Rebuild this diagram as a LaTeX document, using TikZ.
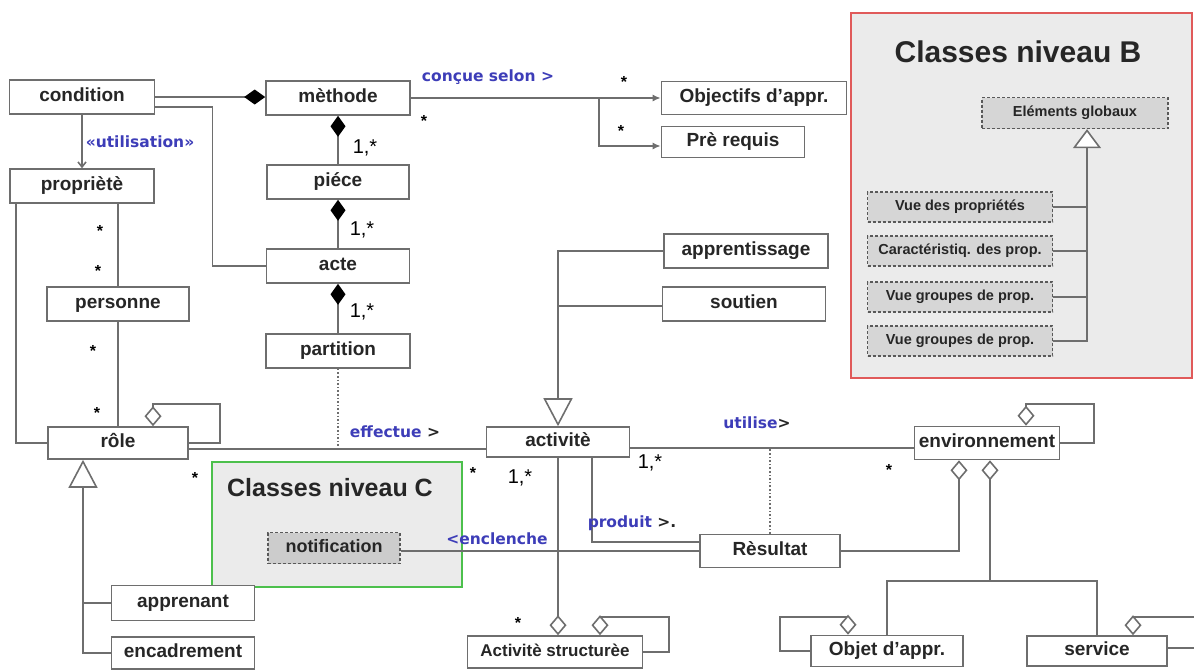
\documentclass[tikz,border=0pt]{standalone}
\usepackage{fontspec}
\setmainfont{Liberation Sans}
\newfontfamily\labelfont{DejaVu Sans}
\usetikzlibrary{arrows.meta}
\definecolor{umlgray}{HTML}{6E6E6E}
\definecolor{umlblue}{HTML}{3D3DB8}
\definecolor{umlred}{HTML}{E05A5A}
\definecolor{umlgreen}{HTML}{4CC04C}
\definecolor{umlfill}{HTML}{EBEBEB}
\definecolor{umlbox}{HTML}{D6D6D6}
\tikzset{
  cls/.style = {draw=umlgray, line width=1.6pt, fill=white, minimum height=34pt, inner sep=0pt, text height=13.5pt, text depth=4.5pt, text=black!85, font=\bfseries\fontsize{19}{22}\selectfont},
  cls_b/.style = {cls, fill=umlbox, draw=black!65, densely dashed, line width=1.3pt, minimum height=30pt, text height=10.5pt, text depth=3.5pt, font=\bfseries\fontsize{14.5}{17}\selectfont},
  frame_b/.style = {draw=umlred, line width=2pt, fill=umlfill, inner sep=0pt},
  frame_c/.style = {draw=umlgreen, line width=2pt, fill=umlfill, inner sep=0pt},
  title/.style = {text=black!85, font=\bfseries\fontsize{30}{34}\selectfont},
  rel/.style = {draw=umlgray, line width=1.6pt},
  rel_dot/.style = {rel, dotted, line width=2pt},
  comp/.style = {rel, -{Diamond[length=21pt,width=15pt,color=black]}},
  aggr/.style = {rel, -{Diamond[open,fill=white,length=20pt,width=17pt]}},
  gen/.style = {rel, -{Triangle[open,fill=white,length=28pt,width=29pt]}},
  nav/.style = {rel, -{Latex[length=8pt,width=7pt]}},
  mult/.style = {inner sep=0pt, font=\bfseries\fontsize{16}{18}\selectfont},
  mult_n/.style = {inner sep=0pt, font=\fontsize{20}{22}\selectfont},
  assoc/.style = {inner sep=0pt, text=umlblue, font=\labelfont\bfseries\fontsize{15.5}{18}\selectfont}
}

\begin{document}
\begin{tikzpicture}[x=1pt,y=-1pt]
	\useasboundingbox (0,0) rectangle (1194,670);
	\clip (0,0) rectangle (1194,670);

	% cadres des niveaux
	\node [frame_b, minimum width=341pt, minimum height=365pt] (niveau_b) at (1021.5,195.5) {};
	\node [title] (titre_b) at (1018,52) {Classes niveau B};
	\node [frame_c, minimum width=250pt, minimum height=125pt] (niveau_c) at (337,524.5) {};
	\node [title, font=\bfseries\fontsize{25}{28}\selectfont] (titre_c) at (330,488) {Classes niveau C};

	% classes
	\node [cls, minimum width=145pt] (condition) at (82,97) {condition};
	\node [cls, minimum width=144pt] (methode) at (338,98) {mèthode};
	\node [cls, minimum width=144pt] (propriete) at (82,186) {propriètè};
	\node [cls, minimum width=142pt] (piece) at (338,182) {piéce};
	\node [cls, minimum width=143pt] (acte) at (338,266) {acte};
	\node [cls, minimum width=142pt] (personne) at (118,304) {personne};
	\node [cls, minimum width=144pt] (partition) at (338,351) {partition};
	\node [cls, minimum width=140pt, minimum height=32pt] (role) at (118,443) {rôle};
	\node [cls, minimum width=143pt, minimum height=30pt] (activite) at (558,442) {activitè};
	\node [cls, minimum width=185pt, minimum height=33pt] (objectifs) at (754,98) {Objectifs d'appr.};
	\node [cls, minimum width=143pt, minimum height=31pt] (prerequis) at (733,142) {Prè requis};
	\node [cls, minimum width=164pt] (apprentissage) at (746,251) {apprentissage};
	\node [cls, minimum width=163pt] (soutien) at (744,304) {soutien};
	\node [cls, minimum width=140pt, minimum height=33pt] (resultat) at (770,551) {Rèsultat};
	\node [cls, minimum width=145pt, minimum height=33pt] (environnement) at (987,443) {environnement};
	\node [cls_b, minimum width=132pt, minimum height=31pt, fill=black!20, text height=13pt, text depth=4pt, font=\bfseries\fontsize{18}{21}\selectfont] (notification) at (334,548) {notification};
	\node [cls, minimum width=143pt, minimum height=35pt] (apprenant) at (183,603) {apprenant};
	\node [cls, minimum width=143pt, minimum height=32pt] (encadrement) at (183,653) {encadrement};
	\node [cls, minimum width=175pt, minimum height=32pt, text height=12.5pt, text depth=4pt, font=\bfseries\fontsize{17}{20}\selectfont] (act_struct) at (555,652) {Activitè structurèe};
	\node [cls, minimum width=152pt, minimum height=31pt] (objet) at (887,651) {Objet d'appr.};
	\node [cls, minimum width=140pt, minimum height=30pt] (service) at (1097,651) {service};

	% classes niveau B
	\node [cls_b, minimum width=186pt, minimum height=31pt] (elem_glob) at (1075,113) {Eléments globaux};
	\node [cls_b, minimum width=185pt] (vue_prop) at (960,207) {Vue des propriétés};
	\node [cls_b, minimum width=185pt] (carac_prop) at (960,251) {Caractéristiq. des prop.};
	\node [cls_b, minimum width=185pt] (vue_grp1) at (960,297) {Vue groupes de prop.};
	\node [cls_b, minimum width=185pt] (vue_grp2) at (960,341) {Vue groupes de prop.};

	% compositions
	\draw [comp] (condition.east) -- (condition.east -| methode.west);
	\draw [comp] (piece) -- (methode);
	\draw [comp] (acte) -- (piece);
	\draw [comp] (partition) -- (acte);
	\draw [rel] ([yshift=-10pt]condition.east) -- ++(57,0) |- (acte.west);
	\draw [rel, -{Straight Barb[length=5pt,width=8pt]}] (condition) -- (propriete);

	% conçue selon
	\coordinate (fork_m) at (599,98);
	\draw [rel] (methode) -- (fork_m);
	\draw [nav] (fork_m) -- (objectifs.west);
	\draw [nav] (fork_m) |- ([yshift=-4pt]prerequis.west);

	% personnes et rôles
	\draw [rel] (personne.north) -- (personne.north |- propriete.south);
	\draw [rel] (personne) -- (role);
	\draw [rel] ([xshift=7pt]propriete.south west) |- (role.west);
	\draw [aggr] (role.east) -| (220,404) -| ([xshift=35pt]role.north);
	\draw [gen] (encadrement.west) -| ([xshift=-35pt]role.south);
	\draw [rel] (apprenant.west) -- ++(-29,0);

	% activité
	\draw [rel] ([yshift=-6pt]role.east) -- ([yshift=-6pt]role.east -| activite.west);
	\draw [rel_dot] (partition.south) -- (partition.south |- 0,449);
	\draw [gen] (apprentissage.west) -| (activite.north);
	\draw [rel] ([yshift=-2pt]soutien.west) -- ([yshift=-2pt]soutien.west -| activite.north);
	\draw [rel] ([yshift=-6pt]activite.east) -- ([yshift=-6pt]activite.east -| environnement.west);
	\draw [rel_dot] (resultat.north) -- (resultat.north |- 0,448);
	\draw [rel] ([xshift=34pt]activite.south) |- ([yshift=9pt]resultat.west);
	\draw [aggr] (activite.south) -- (activite.south |- act_struct.north);
	\draw [aggr] (act_struct.east) -| (669,617) -| ([xshift=45pt]act_struct.north);
	\draw [rel] (resultat.west) -- (resultat.west -| notification.east);

	% environnement
	\coordinate (fork_env) at (990,581);
	\draw [aggr] (resultat.east) -| ([xshift=-28pt]environnement.south);
	\draw [aggr] (environnement.east) -| (1094,404) -| ([xshift=39pt]environnement.north);
	\draw [aggr] (fork_env) -- (fork_env |- environnement.south);
	\draw [rel] (objet.north) |- (fork_env) -| (service.north);
	\draw [aggr] (objet.west) -| (780,617) -| ([xshift=-39pt]objet.north);
	\draw [aggr] ([yshift=3pt]service.east) -| (1215,617) -| ([xshift=36pt]service.north);

	% héritage niveau B
	\draw [gen, -{Triangle[open,fill=white,length=19pt,width=28pt]}] (vue_grp2.east) -| ([xshift=12pt]elem_glob.south);
	\draw [rel] (vue_prop.east) -- ++(35,0);
	\draw [rel] (carac_prop.east) -- ++(35,0);
	\draw [rel] (vue_grp1.east) -- ++(35,0);

	% libellés
	\node [assoc] (l_util) at (140,142) {«utilisation»};
	\node [assoc] (l_concue) at (488,77) {conçue selon >};
	\node [assoc] (l_effectue) at (395,432) {effectue \textcolor{black!85}{>}};
	\node [assoc] (l_utilise) at (757,423) {utilise\textcolor{black!85}{>}};
	\node [assoc] (l_produit) at (632,523) {produit \textcolor{black!85}{>.}};
	\node [assoc] (l_enclenche) at (497,539) {<enclenche};

	% multiplicités
	\node [mult_n] (m1) at (365,148) {1,*};
	\node [mult_n] (m2) at (362,230) {1,*};
	\node [mult_n] (m3) at (362,312) {1,*};
	\node [mult_n] (m4) at (520,478) {1,*};
	\node [mult_n] (m5) at (650,463) {1,*};
	\node [mult] (s1) at (100,231) {*};
	\node [mult] (s2) at (98,271) {*};
	\node [mult] (s3) at (93,351) {*};
	\node [mult] (s4) at (97,413) {*};
	\node [mult] (s5) at (195,478) {*};
	\node [mult] (s6) at (424,121) {*};
	\node [mult] (s7) at (624,82) {*};
	\node [mult] (s8) at (621,131) {*};
	\node [mult] (s9) at (473,473) {*};
	\node [mult] (s10) at (518,623) {*};
	\node [mult] (s11) at (889,470) {*};
\end{tikzpicture}
\end{document}
